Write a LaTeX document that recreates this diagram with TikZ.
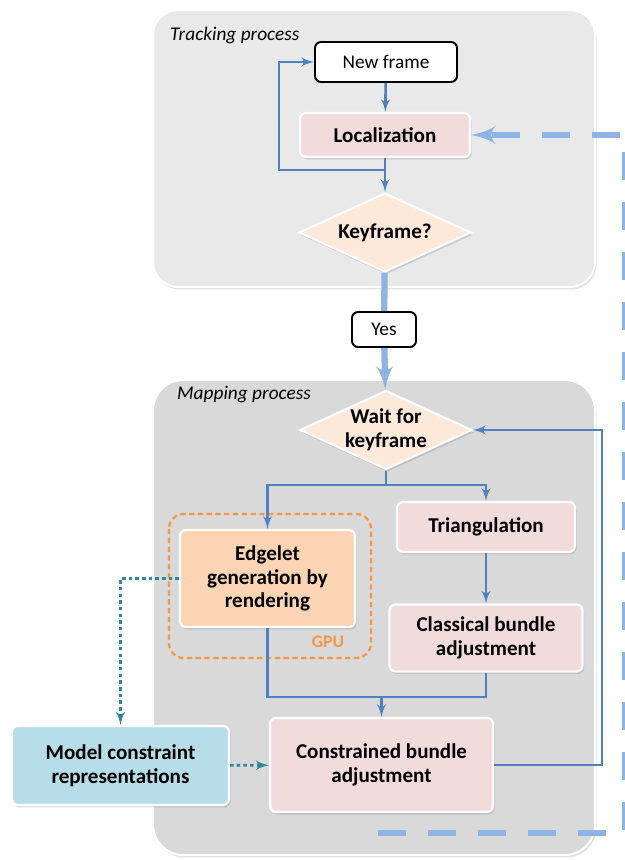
\documentclass[tikz,border=0pt]{standalone}
\usepackage{fontspec}
\setmainfont{Carlito}
\usetikzlibrary{shapes.geometric, arrows, shadows}
\definecolor{trackgray}{HTML}{E9E9E9}
\definecolor{mapgray}{HTML}{D9D9D9}
\definecolor{boxpink}{HTML}{F2DCDB}
\definecolor{diapeach}{HTML}{FDE9D9}
\definecolor{edgeorange}{HTML}{FBD4B4}
\definecolor{modelblue}{HTML}{B7DEE8}
\definecolor{flowblue}{HTML}{4F81BD}
\definecolor{lightflow}{HTML}{8DB4E2}
\definecolor{dotteal}{HTML}{31859C}
\definecolor{gpuorange}{HTML}{F79646}
\tikzset{
  panel/.style={
    rectangle,
    draw=white,
    line width=1.2pt,
    rounded corners=0.5cm,
    drop shadow={shadow xshift=0.03cm, shadow yshift=-0.05cm, opacity=0.25}
  },
  block/.style={
    rectangle,
    rounded corners=0.12cm,
    draw=white,
    line width=1.2pt,
    align=center,
    font=\fontsize{12}{13.5}\selectfont\bfseries,
    drop shadow={shadow xshift=0.03cm, shadow yshift=-0.05cm, opacity=0.3}
  },
  plain/.style={
    rectangle,
    rounded corners=0.12cm,
    draw=black,
    line width=1.1pt,
    fill=white,
    font=\fontsize{11}{13}\selectfont
  },
  decision/.style={
    diamond,
    aspect=2.18,
    inner sep=-1pt,
    minimum width=3.44cm,
    minimum height=1.58cm,
    fill=diapeach,
    draw=white,
    line width=1.2pt,
    align=center,
    font=\fontsize{12}{13.5}\selectfont\bfseries,
    drop shadow={shadow xshift=0.03cm, shadow yshift=-0.05cm, opacity=0.3}
  },
  title/.style={
    anchor=west,
    font=\fontsize{11}{13}\selectfont\itshape
  }
}
\tikzstyle{flow} = [draw=flowblue, line width=1.5pt]
\tikzstyle{arrow} = [->, > = latex', draw=flowblue, line width=1.5pt]
\tikzstyle{bigline} = [draw=lightflow, line width=3.6pt]
\tikzstyle{bigarrow} = [->, > = latex', draw=lightflow, line width=3.6pt]
\tikzstyle{bigdash} = [->, > = latex', draw=lightflow, line width=3.8pt, dash pattern=on 0.56cm off 0.44cm]
\tikzstyle{dotarrow} = [->, > = latex', draw=dotteal, line width=1.6pt, dash pattern=on 2pt off 1.8pt]
\tikzstyle{gpu} = [draw=gpuorange, line width=1.3pt, dash pattern=on 3pt off 2pt, rounded corners=0.3cm]

\begin{document}
\begin{tikzpicture}
    \useasboundingbox (0,0) rectangle (12.5,17.2);
    \node[panel, fill=trackgray, minimum width=8.84cm, minimum height=5.54cm] (track) at (7.48, 14.23) {};
    \node[panel, fill=mapgray, rounded corners=0.6cm, minimum width=8.84cm, minimum height=9.5cm] (map) at (7.48, 4.85) {};
    \node[title] (tracklbl) at (3.28, 16.5) {Tracking process};
    \node[title] (maplbl) at (3.42, 9.3) {Mapping process};

    \node[plain, minimum width=2.84cm, minimum height=0.8cm] (nf) at (7.72, 15.96) {New frame};
    \node[block, fill=boxpink, minimum width=3.4cm, minimum height=0.88cm] (loc) at (7.7, 14.5) {Localization};
    \node[decision] (kf) at (7.7, 12.55) {Keyframe?};
    \node[plain, minimum width=1.28cm, minimum height=0.7cm] (yes) at (7.68, 10.61) {Yes};
    \node[decision] (wkf) at (7.72, 8.6) {Wait for\\keyframe};
    \node[block, fill=boxpink, minimum width=3.56cm, minimum height=1.0cm] (tri) at (9.72, 6.66) {Triangulation};
    \node[block, fill=edgeorange, minimum width=3.5cm, minimum height=1.94cm] (edg) at (5.35, 5.63) {Edgelet\\generation by\\rendering};
    \node[block, fill=boxpink, minimum width=3.86cm, minimum height=1.34cm] (cba) at (9.72, 4.44) {Classical bundle\\adjustment};
    \node[block, fill=boxpink, minimum width=4.46cm, minimum height=1.88cm] (kba) at (7.63, 1.9) {Constrained bundle\\adjustment};
    \node[block, fill=modelblue, minimum width=4.34cm, minimum height=1.58cm] (mcr) at (2.41, 1.89) {Model constraint\\representations};

    \draw[gpu] ([xshift=-0.2cm, yshift=0.3cm]edg.north west) rectangle ([xshift=0.3cm, yshift=-0.6cm]edg.south east);
    \node[font=\fontsize{10}{12}\selectfont\bfseries, text=gpuorange] (gpulbl) at (6.56, 4.36) {GPU};

    \coordinate (lsplit) at (7.7, 13.8);
    \coordinate (lloop) at (5.58, 13.8);
    \coordinate (wsplit) at (7.72, 7.5);
    \coordinate (join) at (7.63, 3.26);
    \coordinate (ret) at (12.04, 1.9);
    \coordinate (dstart) at (7.56, 0.54);
    \coordinate (dturn) at (12.5, 0.54);

    % tracking loop
    \draw[arrow] (nf) -- (loc);
    \draw[arrow] (loc) -- (kf);
    \draw[arrow] (lsplit) -- (lloop) |- (nf);
    \draw[bigline] (kf) -- (yes);
    \draw[bigarrow] (yes) -- (wkf);

    % mapping
    \draw[flow] (wkf) -- (wsplit);
    \draw[arrow] (wsplit) -| (edg);
    \draw[arrow] (wsplit) -| (tri);
    \draw[arrow] (tri) -- (cba);
    \draw[flow] (edg) |- (join);
    \draw[flow] (cba) |- (join);
    \draw[arrow] (join) -- (kba);
    \draw[arrow] (kba) -- (ret) |- (wkf);
    \draw[dotarrow] (edg) -| (mcr);
    \draw[dotarrow] (mcr) -- (kba);
    \draw[bigdash] (dstart) -- (dturn) |- (loc);
\end{tikzpicture}
\end{document}
